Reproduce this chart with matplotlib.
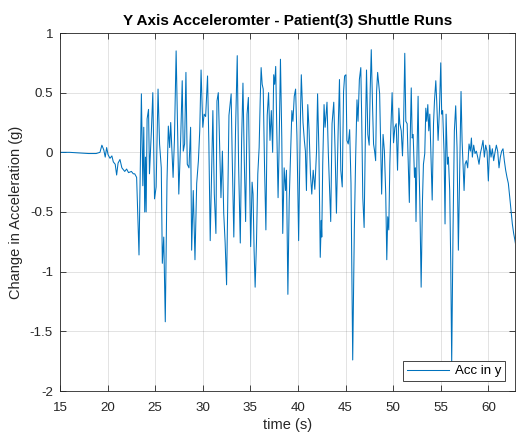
import matplotlib
matplotlib.use("Agg")
import matplotlib.pyplot as plt
import numpy as np

# time (s) and change in acceleration (g)
t = [15.0, 16.0, 17.0, 18.0, 18.8, 19.2, 19.4, 19.6, 19.75, 19.9, 20.05, 20.25, 20.45, 20.6, 20.8,
     20.95, 21.1, 21.3, 21.5, 21.8, 22.0, 22.2, 22.5, 22.7, 22.85, 23.05, 23.3, 23.55, 23.7, 23.8,
     23.9, 23.98, 24.05, 24.15, 24.3, 24.4, 24.6, 24.75, 24.93, 25.1, 25.3, 25.46, 25.64, 25.75, 25.9,
     26.06, 26.24, 26.38, 26.52, 26.63, 26.88, 27.02, 27.2, 27.34, 27.48, 27.66, 27.84, 27.95, 28.09, 28.23,
     28.37, 28.55, 28.72, 28.83, 29.0, 29.18, 29.36, 29.54, 29.68, 29.82, 30.0, 30.14, 30.3, 30.5, 30.64,
     30.78, 30.89, 31.06, 31.21, 31.38, 31.49, 31.63, 31.77, 31.91, 32.06, 32.2, 32.35, 32.5, 32.75, 32.98,
     33.08, 33.26, 33.44, 33.62, 33.76, 33.94, 34.08, 34.22, 34.36, 34.5, 34.65, 34.79, 34.93, 35.03, 35.18,
     35.28, 35.39, 35.5, 35.64, 35.78, 35.92, 36.03, 36.13, 36.24, 36.35, 36.49, 36.63, 36.77, 36.91, 37.06,
     37.2, 37.34, 37.45, 37.55, 37.66, 37.77, 37.91, 38.01, 38.16, 38.3, 38.4, 38.55, 38.69, 38.79, 38.94,
     39.08, 39.22, 39.36, 39.47, 39.61, 39.75, 39.89, 40.07, 40.25, 40.35, 40.53, 40.67, 40.78, 40.89, 41.03,
     41.17, 41.31, 41.45, 41.6, 41.77, 41.95, 42.06, 42.2, 42.34, 42.45, 42.5, 42.6, 42.74, 42.85, 43.05,
     43.19, 43.44, 43.58, 43.76, 43.9, 44.04, 44.22, 44.36, 44.5, 44.65, 44.79, 44.9, 45.04, 45.14, 45.28,
     45.43, 45.57, 45.75, 45.92, 46.06, 46.2, 46.31, 46.45, 46.6, 46.7, 46.81, 46.95, 47.09, 47.2, 47.34,
     47.48, 47.59, 47.7, 47.84, 47.94, 48.05, 48.16, 48.26, 48.37, 48.48, 48.58, 48.69, 48.79, 48.94, 49.08,
     49.22, 49.33, 49.43, 49.54, 49.65, 49.75, 49.89, 50.04, 50.18, 50.32, 50.46, 50.6, 50.7, 50.85, 50.98,
     51.1, 51.22, 51.33, 51.47, 51.57, 51.7, 51.8, 51.9, 52.0, 52.1, 52.24, 52.33, 52.4, 52.5, 52.62,
     52.72, 52.8, 52.94, 53.08, 53.18, 53.32, 53.43, 53.53, 53.64, 53.74, 53.85, 53.95, 54.1, 54.24, 54.34,
     54.48, 54.58, 54.72, 54.86, 55.0, 55.1, 55.2, 55.35, 55.45, 55.56, 55.7, 55.8, 55.94, 56.05, 56.15,
     56.29, 56.43, 56.57, 56.71, 56.85, 56.99, 57.13, 57.24, 57.34, 57.45, 57.55, 57.69, 57.83, 57.97, 58.11,
     58.22, 58.32, 58.46, 58.6, 58.74, 58.88, 59.02, 59.16, 59.3, 59.44, 59.58, 59.72, 59.86, 60.0, 60.14,
     60.28, 60.42, 60.56, 60.7, 60.84, 60.98, 61.12, 61.26, 61.4, 61.54, 61.68, 61.82, 61.96, 62.1, 62.24,
     62.38, 62.52, 62.66, 62.8, 62.9]
acc_y = [0.0, 0.0, -0.005, -0.01, -0.01, 0.0, 0.06, 0.02, -0.04, 0.04, -0.02, -0.05, -0.03, -0.08, -0.1,
         -0.19, -0.09, -0.06, -0.13, -0.16, -0.14, -0.17, -0.16, -0.18, -0.18, -0.21, -0.86, 0.49, -0.28, 0.21,
         -0.5, -0.04, -0.5, 0.28, 0.36, -0.18, 0.18, 0.5, -0.39, -0.29, 0.53, 0.07, -0.13, -0.93, -0.71,
         -1.42, -0.24, 0.22, 0.04, 0.25, -0.21, 0.1, 0.85, 0.24, -0.35, 0.06, 0.6, 0.01, 0.07, 0.67,
         -0.1, -0.13, 0.21, -0.82, -0.32, -0.9, -0.26, -0.07, 0.18, 0.69, 0.21, 0.32, 0.3, 0.64, 0.07,
         -0.74, -0.32, 0.35, -0.35, -0.68, 0.43, 0.5, 0.07, -0.38, 0.01, -0.51, -0.76, -1.11, 0.31, 0.49,
         0.01, -0.71, 0.18, 0.81, -0.1, -0.76, 0.1, 0.58, -0.07, -0.58, 0.32, 0.46, -0.29, -0.79, -0.25,
         -0.35, -0.82, -1.13, -0.76, -0.18, 0.04, 0.43, 0.71, 0.57, 0.53, -0.13, -0.65, 0.31, 0.5, 0.1,
         0.35, 0.0, 0.65, 0.57, 0.72, 0.21, -0.38, 0.01, 0.78, 0.12, -0.68, -0.13, -0.32, -0.15, -1.19,
         -0.4, -0.03, 0.35, 0.26, 0.47, 0.53, 0.14, -0.74, 0.26, 0.65, 0.25, 0.1, 0.01, -0.32, 0.4,
         0.18, -0.18, -0.35, -0.15, -0.31, 0.01, 0.49, 0.01, -0.88, -0.57, -0.71, -0.1, 0.4, 0.21, 0.42,
         -0.01, -0.58, 0.24, 0.42, 0.01, -0.51, 0.18, 0.61, -0.15, -0.29, 0.51, 0.64, 0.65, 0.1, 0.07,
         0.19, -0.26, -1.74, -0.65, -0.04, 0.44, 0.26, 0.61, 0.71, 0.26, -0.38, -0.63, 0.19, 0.69, 0.15,
         0.06, 0.53, 0.86, 0.37, 0.07, 0.01, -0.07, 0.51, 0.67, 0.58, 0.49, 0.07, -0.35, 0.15, 0.01,
         -0.35, -0.9, -0.54, -0.65, -0.1, 0.18, 0.5, 0.08, 0.21, 0.24, -0.15, 0.37, 0.24, 0.18, -0.03,
         0.26, 0.83, 0.26, 0.24, -0.04, -0.42, 0.15, 0.54, 0.12, 0.15, -0.21, -0.13, -0.58, -0.04, 0.47,
         -0.13, -0.4, -1.13, -0.4, -0.1, -0.01, 0.37, 0.26, 0.4, 0.18, 0.32, 0.04, -0.4, 0.24, 0.43,
         0.6, 0.42, 0.1, 0.35, 0.75, 0.32, 0.35, -0.01, -0.6, 0.32, -0.1, -0.04, -0.32, -0.93, -1.77,
         -0.65, 0.18, 0.39, 0.04, -0.82, -0.18, 0.51, 0.1, -0.1, -0.32, -0.1, -0.07, -0.13, 0.07, 0.01,
         0.12, -0.04, 0.06, -0.01, 0.01, -0.04, -0.1, -0.01, 0.04, 0.1, -0.04, 0.06, 0.01, -0.24, 0.06,
         -0.04, 0.03, -0.07, 0.0, 0.06, 0.01, -0.13, -0.04, 0.01, 0.03, -0.07, -0.15, -0.21, -0.26, -0.37,
         -0.49, -0.6, -0.68, -0.74, -0.79]

xticks = [15, 20, 25, 30, 35, 40, 45, 50, 55, 60]
yticks = [-2, -1.5, -1, -0.5, 0, 0.5, 1]
ytick_labels = ["-2", "-1.5", "-1", "-0.5", "0", "0.5", "1"]

plt.rcParams['font.family'] = ['Liberation Sans', 'DejaVu Sans']
dark = '#262626'

fig = plt.figure(figsize=(5.17, 4.32), dpi=100)
ax = fig.add_axes([60 / 517, 1 - 391 / 432, 455 / 517, 358 / 432])

ax.plot(t, acc_y, color='#0072BD', linewidth=0.75, label='Acc in y')

ax.set_xlim(15, 62.8)
ax.set_ylim(-2, 1)
ax.set_xticks(xticks)
ax.set_xticklabels([str(v) for v in xticks])
ax.set_yticks(yticks)
ax.set_yticklabels(ytick_labels)

ax.grid(True, color=dark, alpha=0.15, linewidth=0.6)
ax.tick_params(direction='in', length=4, width=0.6, top=True, right=True,
               colors=dark, labelsize=9.6)
ax.tick_params(axis='x', pad=8)
ax.tick_params(axis='y', pad=5)
for s in ax.spines.values():
    s.set_color(dark)
    s.set_linewidth(0.6)

ax.set_title('Y Axis Acceleromter - Patient(3) Shuttle Runs', fontsize=11,
             fontweight='bold', color='black', pad=6)
ax.set_xlabel('time (s)', fontsize=10.5, color=dark, labelpad=3)
ax.set_ylabel('Change in Acceleration (g)', fontsize=10.5, color=dark, labelpad=5)

leg = ax.legend(loc='lower right', fontsize=9.5, fancybox=False, framealpha=1,
                edgecolor=dark, handlelength=3.2, borderaxespad=0.75,
                borderpad=0.3, handletextpad=0.4)
leg.get_frame().set_linewidth(0.6)

fig.savefig('out.png', dpi=100, facecolor='white')
